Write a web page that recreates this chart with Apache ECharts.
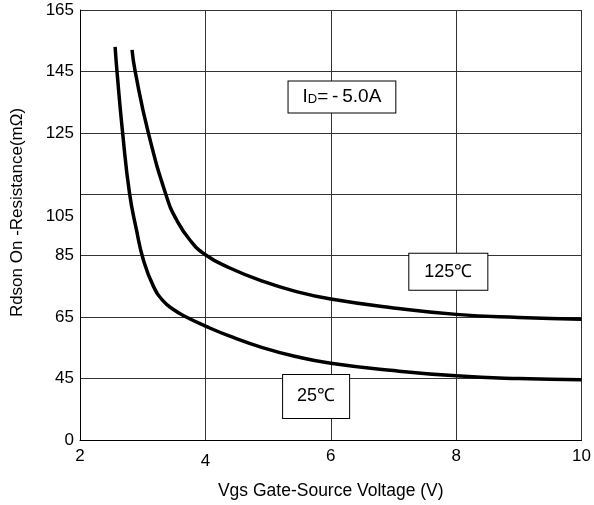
<!DOCTYPE html>
<html>
<head>
<meta charset="utf-8">
<script src="https://cdn.jsdelivr.net/npm/echarts@6/dist/echarts.min.js"></script>
<style>
  html, body { margin: 0; padding: 0; background: #fff; }
  #chart { width: 594px; height: 505px; }
</style>
</head>
<body>
<div id="chart"></div>
<script>
// Gate voltage (V) and on-resistance (mΩ) at Tj = 25 ℃
const vgs25 = [2.56, 2.59, 2.68, 2.79, 2.90, 3.01, 3.17, 3.33, 3.49, 3.67, 4.0, 4.39, 4.91, 5.44, 6.0, 7.0, 8.0, 9.0, 10.0];
const rds25 = [153, 145, 125, 105.3, 93.5, 83.7, 75.1, 70.2, 67.5, 65.3, 62.1, 58.8, 55.1, 52.2, 50.0, 47.6, 45.9, 45.0, 44.6];

// Gate voltage (V) and on-resistance (mΩ) at Tj = 125 ℃
const vgs125 = [2.83, 2.88, 3.09, 3.38, 3.54, 3.75, 4.0, 4.39, 4.91, 5.44, 6.0, 7.0, 8.0, 9.0, 10.0];
const rds125 = [152, 145, 125, 104.3, 96.7, 90.2, 85.3, 81.0, 76.7, 73.4, 70.9, 68.0, 65.9, 64.9, 64.3];

// Axis ticks; the lowest gridline is printed as "0"
const xTicks = [2, 4, 6, 8, 10];
const yTickValues = [25, 45, 65, 85, 105, 125, 145, 165];
const yTickLabels = ['0', '45', '65', '85', '105', '125', '145', '165'];

// Annotation labels
const tempLabels = ['25℃', '125℃'];
const currentLabel = ['I', 'D', '=\u2009-\u20095.0A'];

const FONT = "'Liberation Sans', Arial, sans-serif";

const zip = (xs, ys) => xs.map((x, i) => [x, ys[i]]);

const chart = echarts.init(document.getElementById('chart'), null, { renderer: 'canvas' });

const curveStyle = { color: '#000', width: 3.5 };
const boxLabel = {
  show: true,
  position: 'inside',
  color: '#000',
  fontFamily: FONT,
  fontSize: 18,
  lineHeight: 18,
  backgroundColor: '#fff',
  borderColor: '#000',
  borderWidth: 1
};

chart.setOption({
  animation: false,
  backgroundColor: '#fff',
  textStyle: { fontFamily: FONT, color: '#000' },
  grid: { left: 80, right: 10, top: 10, bottom: 64, containLabel: false },
  xAxis: {
    type: 'value',
    min: xTicks[0],
    max: xTicks[xTicks.length - 1],
    interval: 2,
    name: 'Vgs Gate-Source Voltage (V)',
    nameLocation: 'middle',
    nameGap: 42,
    nameTextStyle: { fontSize: 17.5, color: '#000', fontFamily: FONT },
    axisLine: { show: true, lineStyle: { color: '#000', width: 1 } },
    axisTick: { show: false },
    axisLabel: {
      fontSize: 17,
      color: '#000',
      fontFamily: FONT,
      margin: 8,
      showMinLabel: true,
      showMaxLabel: true,
      formatter: v => (v === 4 ? '{lo|4}' : String(v)),
      rich: { lo: { fontSize: 17, fontFamily: FONT, color: '#000', padding: [5, 0, 0, 0] } }
    },
    splitLine: { show: true, lineStyle: { color: '#333', width: 1 } }
  },
  yAxis: {
    type: 'value',
    min: yTickValues[0],
    max: yTickValues[yTickValues.length - 1],
    interval: 20,
    name: 'Rdson On -Resistance(mΩ)',
    nameLocation: 'middle',
    nameGap: 54,
    nameRotate: 90,
    nameTextStyle: { fontSize: 17, color: '#000', fontFamily: FONT, padding: [0, 0, 0, 25] },
    axisLine: { show: true, lineStyle: { color: '#000', width: 1 } },
    axisTick: { show: false },
    axisLabel: {
      fontSize: 17,
      color: '#000',
      fontFamily: FONT,
      margin: 6,
      showMinLabel: true,
      showMaxLabel: true,
      formatter: v => {
        const i = yTickValues.indexOf(v);
        const txt = i >= 0 ? yTickLabels[i] : '';
        return v === 105 ? '{lo|' + txt + '}' : txt;
      },
      rich: { lo: { fontSize: 17, fontFamily: FONT, color: '#000', padding: [44, 0, 0, 0] } }
    },
    splitLine: { show: true, lineStyle: { color: '#333', width: 1 } }
  },
  series: [
    {
      name: tempLabels[0],
      type: 'line',
      data: zip(vgs25, rds25),
      showSymbol: false,
      smooth: 0.5,
      lineStyle: curveStyle,
      z: 3,
      markPoint: {
        silent: true,
        symbol: 'rect',
        symbolSize: 0,
        data: [
          {
            coord: [5.766, 39.2],
            label: Object.assign({}, boxLabel, {
              formatter: tempLabels[0],
              padding: [4, 14, 21, 14]
            })
          },
          {
            coord: [6.178, 136.7],
            label: Object.assign({}, boxLabel, {
              formatter: '{m|' + currentLabel[0] + '}{s|' + currentLabel[1] + '}{m|' + currentLabel[2] + '}',
              padding: [6, 14, 6, 14],
              rich: {
                m: { fontSize: 19, fontFamily: FONT, color: '#000', lineHeight: 19 },
                s: { fontSize: 13, fontFamily: FONT, color: '#000', verticalAlign: 'bottom', lineHeight: 15 }
              }
            })
          }
        ]
      }
    },
    {
      name: tempLabels[1],
      type: 'line',
      data: zip(vgs125, rds125),
      showSymbol: false,
      smooth: 0.5,
      lineStyle: curveStyle,
      z: 3,
      markPoint: {
        silent: true,
        symbol: 'rect',
        symbolSize: 0,
        data: [
          {
            coord: [7.875, 79.8],
            label: Object.assign({}, boxLabel, {
              formatter: tempLabels[1],
              padding: [9, 15, 9, 15]
            })
          }
        ]
      }
    }
  ]
});
</script>
</body>
</html>
